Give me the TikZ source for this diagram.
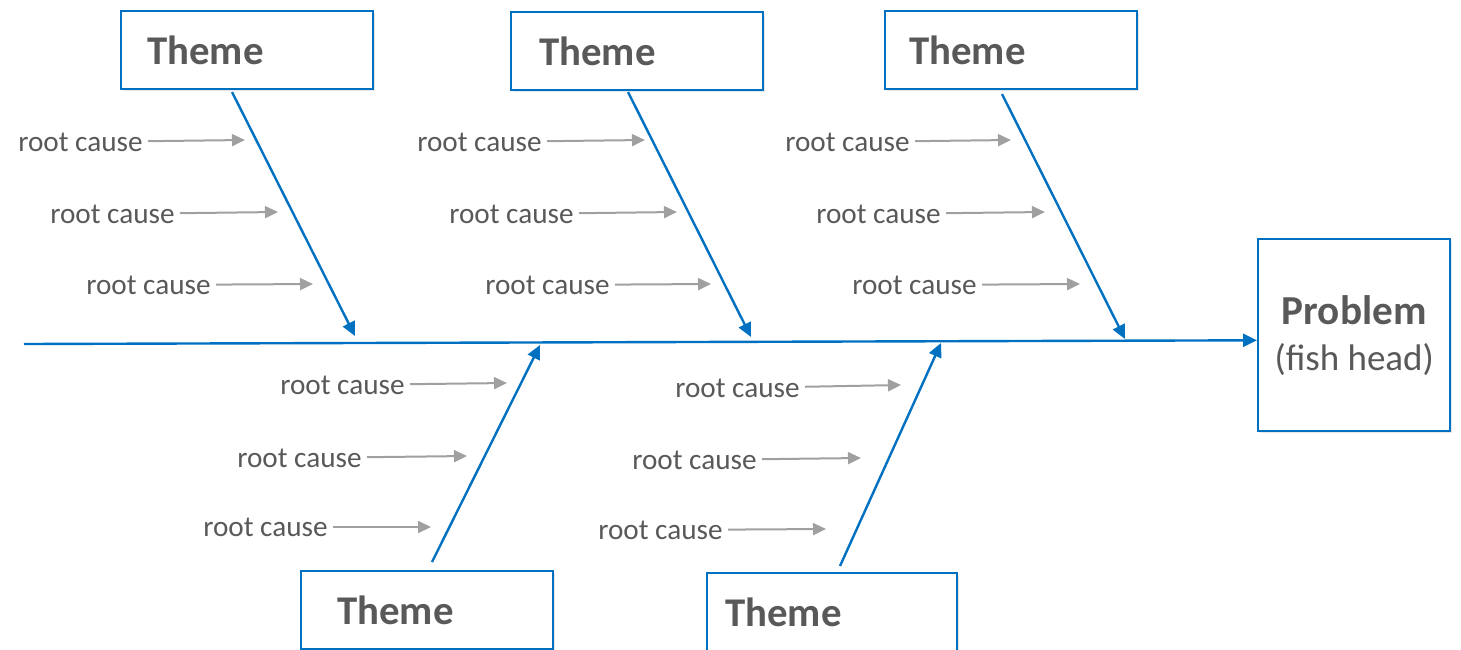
\documentclass[tikz,border=0pt]{standalone}
\usepackage{fontspec}
\setmainfont{Carlito}
\usetikzlibrary{arrows.meta,shadows}
\definecolor{fbblue}{HTML}{0070C0}
\definecolor{fbtext}{HTML}{595959}
\definecolor{fbgray}{HTML}{A0A0A0}
\begin{document}
\begin{tikzpicture}[x=0.5pt,y=-0.5pt,
  boxshadow/.style={drop shadow={opacity=0.18,shadow xshift=1pt,shadow yshift=-1pt}},
  themebox/.style={draw=fbblue,line width=1.2pt,fill=white,boxshadow,text=fbtext,
    font=\fontsize{20.4}{24}\selectfont\bfseries,minimum height=39pt,
    text width=98pt,inner xsep=14pt,align=left,anchor=north west},
  probbox/.style={draw=fbblue,line width=1.2pt,fill=white,boxshadow,text=fbtext,
    font=\fontsize{18.5}{23}\selectfont,
    minimum width=96pt,minimum height=96pt,align=center,anchor=north west,inner sep=0pt},
  cause/.style={text=fbtext,font=\fontsize{14.6}{17}\selectfont,inner sep=0pt,anchor=east},
  causearrow/.style={draw=fbgray,line width=1pt,shorten <=2.5pt,-{Triangle[length=6.5pt,width=6pt]}},
  bone/.style={draw=fbblue,line width=1.2pt,-{Triangle[length=7pt,width=6.5pt]}},
  spine/.style={draw=fbblue,line width=1.2pt,-{Triangle[length=7pt,width=6.5pt]}}]
\useasboundingbox (0,0) rectangle (1461,649);

% theme boxes
\node[themebox] (t1) at (120,10) {\hspace*{-1pt}Theme};
\node[themebox] (t2) at (510,11) {\raisebox{-1.5pt}{Theme}};
\node[themebox] (t3) at (884,10) {\hspace*{-2pt}Theme};
\node[themebox] (t4) at (300,570) {\hspace*{4pt}Theme};
\node[themebox,text width=97pt] (t5) at (706,572) {\hspace*{-5pt}\raisebox{-2pt}{Theme}};

% problem box
\node[probbox] (prob) at (1257,238)
  {{\fontsize{20.6}{23}\selectfont\bfseries Problem}\\(fish head)};

% spine
\coordinate (sp) at (24,344);
\draw[spine] (sp) -- (prob.183.6);

% bones
\coordinate (b1s) at (232,92);  \coordinate (b1e) at (355,336);
\coordinate (b2s) at (628,92);  \coordinate (b2e) at (751,337);
\coordinate (b3s) at (1002,94); \coordinate (b3e) at (1125,339);
\coordinate (b4s) at (432,562); \coordinate (b4e) at (540,345);
\coordinate (b5s) at (840,566); \coordinate (b5e) at (941,343);
\draw[bone] (b1s) -- (b1e);
\draw[bone] (b2s) -- (b2e);
\draw[bone] (b3s) -- (b3e);
\draw[bone] (b4s) -- (b4e);
\draw[bone] (b5s) -- (b5e);

% root causes, group 1
\node[cause] (c11) at (143,142) {root cause};
\node[cause] (c12) at (175,214) {root cause};
\node[cause] (c13) at (211,285) {root cause};
\coordinate (a11) at (245,140); \coordinate (a12) at (278,212); \coordinate (a13) at (313,284);
\draw[causearrow] (c11) -- (a11);
\draw[causearrow] (c12) -- (a12);
\draw[causearrow] (c13) -- (a13);

% group 2
\node[cause] (c21) at (542,142) {root cause};
\node[cause] (c22) at (574,214) {root cause};
\node[cause] (c23) at (610,285) {root cause};
\coordinate (a21) at (645,140); \coordinate (a22) at (677,212); \coordinate (a23) at (711,284);
\draw[causearrow] (c21) -- (a21);
\draw[causearrow] (c22) -- (a22);
\draw[causearrow] (c23) -- (a23);

% group 3
\node[cause] (c31) at (910,142) {root cause};
\node[cause] (c32) at (941,214) {root cause};
\node[cause] (c33) at (977,285) {root cause};
\coordinate (a31) at (1011,140); \coordinate (a32) at (1045,212); \coordinate (a33) at (1080,284);
\draw[causearrow] (c31) -- (a31);
\draw[causearrow] (c32) -- (a32);
\draw[causearrow] (c33) -- (a33);

% group 4 (bottom)
\node[cause] (c41) at (405,385) {root cause};
\node[cause] (c42) at (362,458) {root cause};
\node[cause] (c43) at (328,527) {root cause};
\coordinate (a41) at (507,383); \coordinate (a42) at (467,456); \coordinate (a43) at (431,527);
\draw[causearrow] (c41) -- (a41);
\draw[causearrow] (c42) -- (a42);
\draw[causearrow] (c43) -- (a43);

% group 5 (bottom)
\node[cause] (c51) at (800,388) {root cause};
\node[cause] (c52) at (757,460) {root cause};
\node[cause] (c53) at (723,530) {root cause};
\coordinate (a51) at (901,385); \coordinate (a52) at (861,458); \coordinate (a53) at (826,529);
\draw[causearrow] (c51) -- (a51);
\draw[causearrow] (c52) -- (a52);
\draw[causearrow] (c53) -- (a53);
\end{tikzpicture}
\end{document}
